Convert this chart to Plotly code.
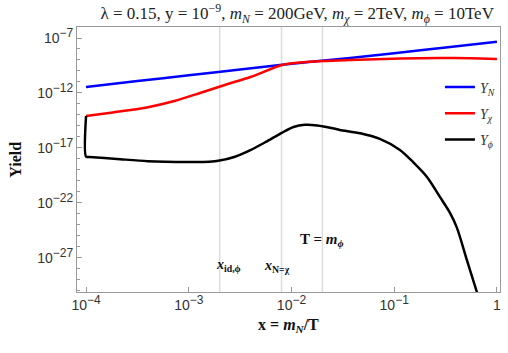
import numpy as np
import plotly.graph_objects as go

# ---- data (log10 x, log10 yield) ----
blue_logx = [-4.0, -3.5, -3.0, -2.5, -2.09, -1.43, -1.0, -0.5, 0.0]
blue_logy = [-11.45, -10.92, -10.39, -9.86, -9.43, -8.82, -8.38, -7.86, -7.34]

red_logx = [-4.0, -3.74, -3.41, -3.14, -2.89, -2.65, -2.40, -2.09, -1.92, -1.69,
            -1.43, -0.94, -0.555, -0.26, 0.0]
red_logy = [-14.09, -13.77, -13.32, -12.73, -12.0, -11.27, -10.55, -9.45, -9.23, -9.09,
            -9.0, -8.86, -8.82, -8.84, -8.91]

black_logx = [-4.0, -4.0, -3.97, -3.7, -3.4, -3.0, -2.8, -2.7, -2.55, -2.4, -2.25, -2.09,
              -1.98, -1.87, -1.75, -1.6, -1.53, -1.33, -1.14, -0.944, -0.818,
              -0.681, -0.555, -0.457, -0.389, -0.292, -0.195, -0.13]
black_logy = [-14.09, -17.8, -17.82, -18.0, -18.2, -18.27, -18.25, -18.15, -17.8, -17.2, -16.45,
              -15.6, -15.1, -14.9, -14.95, -15.2, -15.36, -15.66, -16.18, -17.18,
              -18.27, -19.64, -21.45, -22.9, -24.27, -27.2, -30.1, -32.0]

ref_lines = [2e-3, 8e-3, 2e-2]

SUP = "<sup><span style='font-size:12px'>%s</span></sup>"
x_tickvals = [1e-4, 1e-3, 1e-2, 1e-1, 1]
x_ticktext = ["10" + SUP % "−4", "10" + SUP % "−3", "10" + SUP % "−2", "10" + SUP % "−1", "1"]
y_tickvals = [1e-7, 1e-12, 1e-17, 1e-22, 1e-27]
y_ticktext = ["10" + SUP % "−7", "10" + SUP % "−12", "10" + SUP % "−17",
              "10" + SUP % "−22", "10" + SUP % "−27"]
y_minor = [10.0 ** k for k in range(-30, -5)]

labels = ["<i>Y<sub>N</sub></i>", "<i>Y<sub>χ</sub></i>", "<i>Y<sub>ϕ</sub></i>"]
colors = ["#0000ff", "#ff0000", "#000000"]

def p10(v):
    return [10.0 ** a for a in v]

fig = go.Figure()

for v in ref_lines:
    fig.add_trace(go.Scatter(x=[v, v], y=[1e-35, 1e-3], mode="lines",
                             line=dict(color="#dcdcdc", width=1.5),
                             showlegend=False, hoverinfo="skip"))

series = [(blue_logx, blue_logy), (red_logx, red_logy), (black_logx, black_logy)]
for i, (lx, ly) in enumerate(series):
    fig.add_trace(go.Scatter(x=p10(lx), y=p10(ly), mode="lines", name=labels[i],
                             legendgroup=str(i),
                             line=dict(color=colors[i], width=2.5, shape="spline",
                                       smoothing=0.8)))

serif = "Liberation Serif"
sans = "Liberation Sans"

fig.update_layout(
    width=508, height=353,
    margin=dict(l=77, r=8, t=27, b=61),
    plot_bgcolor="white", paper_bgcolor="white",
    title=dict(text="λ = 0.15, y = 10<sup>−9</sup>, <i>m<sub>N</sub></i> = 200GeV, "
                    "<i>m<sub>χ</sub></i> = 2TeV, <i>m<sub>ϕ</sub></i> = 10TeV",
               x=0.585, xanchor="center", y=0.963, yanchor="middle",
               font=dict(family=serif, size=17, color="#222")),
    legend=dict(x=0.858, y=0.832, xanchor="left", yanchor="top",
                bgcolor="rgba(0,0,0,0)", tracegroupgap=5,
                font=dict(family=serif, size=14, color="#333")),
    xaxis=dict(type="log", range=[-4.088, 0.03], automargin=False,
               tickvals=x_tickvals, ticktext=x_ticktext,
               ticks="inside", ticklen=5, tickcolor="#999",
               showline=True, linecolor="#999", linewidth=1, mirror=True,
               showgrid=False, zeroline=False,
               tickfont=dict(family=sans, size=14, color="#333")),
    yaxis=dict(type="log", range=[-30.1, -6.0], automargin=False,
               tickvals=y_tickvals, ticktext=y_ticktext,
               ticks="inside", ticklen=5, tickcolor="#999",
               minor=dict(tickvals=y_minor, ticks="inside", ticklen=3, tickcolor="#999"),
               showline=True, linecolor="#999", linewidth=1, mirror=True,
               showgrid=False, zeroline=False,
               tickfont=dict(family=sans, size=14, color="#333")),
)

# axis titles
fig.add_annotation(text="<b>x = <i>m<sub>N</sub></i>/T</b>", xref="paper", yref="paper",
                   x=0.50, y=-0.128, yanchor="middle", showarrow=False,
                   font=dict(family=serif, size=16, color="#111"))
fig.add_annotation(text="<b>Yield</b>", xref="paper", yref="paper", textangle=-90,
                   x=-0.146, y=0.5, xanchor="center", showarrow=False,
                   font=dict(family=serif, size=16, color="#111"))

annots = [("<b>T = <i>m<sub>ϕ</sub></i></b>", np.log10(2e-2), -25.4, 15),
          ("<b><i>x</i><sub>id,ϕ</sub></b>", -2.61, -27.7, 14),
          ("<b><i>x</i><sub>N=χ</sub></b>", -2.14, -27.8, 14)]
for t, ax_, ay_, fs in annots:
    fig.add_annotation(text=t, x=ax_, y=ay_, xref="x", yref="y", showarrow=False,
                       font=dict(family=serif, size=fs, color="#111"))

fig.write_html("out.html", config={"displayModeBar": False},
               post_script="document.body.style.margin='0';")
